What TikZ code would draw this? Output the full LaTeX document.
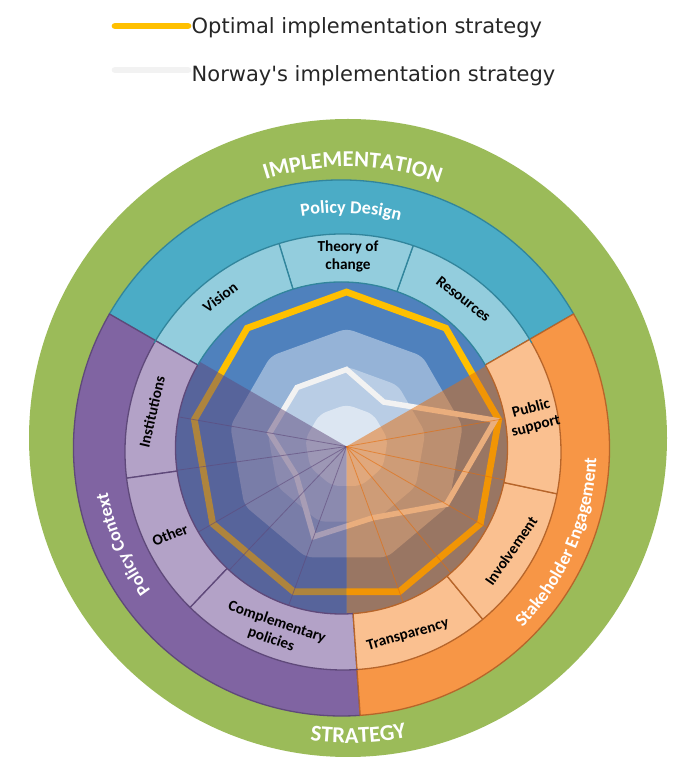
\documentclass[tikz,border=0pt]{standalone}
\usepackage{fontspec}
\usepackage{graphicx}
\setmainfont{Carlito}
\newfontfamily\legendfont{DejaVu Sans}
\usetikzlibrary{decorations.text,calc}

\definecolor{cgreen}{HTML}{9BBB59}
\definecolor{cteal}{HTML}{4BACC6}
\definecolor{clteal}{HTML}{93CDDD}
\definecolor{cteald}{HTML}{31859C}
\definecolor{cpurple}{HTML}{8064A2}
\definecolor{clpurple}{HTML}{B3A2C7}
\definecolor{cpurpled}{HTML}{5F497A}
\definecolor{corange}{HTML}{F79646}
\definecolor{clorange}{HTML}{FAC090}
\definecolor{coranged}{HTML}{B7652A}
\definecolor{cblue}{HTML}{4F81BD}
\definecolor{cla}{HTML}{95B3D7}
\definecolor{clb}{HTML}{B9CDE5}
\definecolor{clc}{HTML}{DCE6F2}
\definecolor{cgold}{HTML}{FFC000}
\definecolor{cnor}{HTML}{F2F2F2}
\definecolor{covp}{HTML}{5F497A}
\definecolor{covo}{HTML}{E46C0A}
\definecolor{ctext}{HTML}{262626}

\newcommand\bandfont{\fontsize{18.2}{20}\selectfont\bfseries}
\newcommand\ringfont{\fontsize{22.7}{25}\selectfont\bfseries}

\tikzset{
  lbl/.style={font=\fontsize{15.3}{18}\selectfont\bfseries, text=black, align=center, inner sep=0pt},
  legtext/.style={anchor=base west, inner sep=0pt, text=ctext, font=\legendfont\fontsize{21}{25}\selectfont},
  segline/.style={line width=1.3pt},
  arctext/.style={decorate, decoration={text along path, text align=center, text color=white}},
}

\begin{document}
\begin{tikzpicture}[x=1pt,y=1pt]
\useasboundingbox (0,0) rectangle (686,772);
\coordinate (D) at (341.5,324);
\coordinate (G) at (348,334);
\coordinate (R) at (346.5,325.5);
\coordinate (M) at (343,320);

% outer green ring
\fill[cgreen] (G) circle[radius=319];

% outer bands
\foreach \a/\b/\c/\d in {30/150/cteal/cteald, 150/274/cpurple/cpurpled, 274/390/corange/coranged}{
  \filldraw[fill=\c, draw=\d, segline] (D) -- ($(D)+(\a:268)$) arc[start angle=\a, end angle=\b, radius=268] -- cycle;
}

% sub-segments
\begin{scope}
\clip (M) circle[radius=218];
\foreach \a/\b/\c/\d in {30/70.5/clteal/cteald, 70.5/107/clteal/cteald, 107/150/clteal/cteald,
  150/188/clpurple/cpurpled, 188/226.5/clpurple/cpurpled, 226.5/274/clpurple/cpurpled,
  274/309.5/clorange/coranged, 309.5/348/clorange/coranged, 348/390/clorange/coranged}{
  \filldraw[fill=\c, draw=\d, segline] (D) -- ($(D)+(\a:300)$) arc[start angle=\a, end angle=\b, radius=300] -- cycle;
}
\end{scope}
\draw[cteald, segline] ($(M)+(30:218)$) arc[start angle=30, end angle=150, radius=218];
\draw[cpurpled, segline] ($(M)+(150:218)$) arc[start angle=150, end angle=274, radius=218];
\draw[coranged, segline] ($(M)+(274:218)$) arc[start angle=274, end angle=390, radius=218];

% radar disk
\fill[cblue] (D) circle[radius=166];
\begin{scope}
\clip (D) circle[radius=166];
\foreach \r/\c in {118/cla, 80/clb, 42/clc}{
  \fill[\c, rounded corners=7pt] ($(R)+(70:{\r*0.9397})$) -- ($(R)+(50:\r)$) -- ($(R)+(10:\r)$) -- ($(R)+(-30:\r)$)
    -- ($(R)+(-70:\r)$) -- ($(R)+(-110:\r)$) -- ($(R)+(-150:\r)$) -- ($(R)+(170:\r)$) -- ($(R)+(130:\r)$)
    -- ($(R)+(90:\r)$) -- cycle;
}
% optimal strategy
\draw[cgold, line width=6.7pt, line join=miter] ($(R)+(90:154.5)$) -- ($(R)+(50:154.5)$) -- ($(R)+(10:154.5)$)
  -- ($(R)+(-30:154.5)$) -- ($(R)+(-70:154.5)$) -- ($(R)+(-110:154.5)$) -- ($(R)+(-150:154.5)$)
  -- ($(R)+(170:154.5)$) -- ($(R)+(130:154.5)$) -- cycle;
% Norway
\draw[cnor, line width=5.5pt, line join=miter] ($(R)+(90:77)$) -- ($(R)+(50:58)$) -- ($(R)+(10:151)$)
  -- ($(R)+(-30:115.5)$) -- ($(R)+(-70:76)$) -- ($(R)+(-110:96)$) -- ($(R)+(-150:58)$)
  -- ($(R)+(170:78)$) -- ($(R)+(130:77)$) -- cycle;
% overlays
\fill[covp, opacity=0.5] (R) -- ($(R)+(150:220)$) arc[start angle=150, end angle=270, radius=220] -- cycle;
\fill[covo, opacity=0.5] (R) -- ($(R)+(-90:220)$) arc[start angle=-90, end angle=30, radius=220] -- cycle;
\foreach \t in {170,188,210,226.5,250}{
  \draw[covp, line width=0.8pt, opacity=0.6] (R) -- ($(R)+(\t:220)$);
}
\foreach \t in {-70,-50.5,-30,-12,10}{
  \draw[covo, line width=0.8pt, opacity=0.6] (R) -- ($(R)+(\t:220)$);
}
\end{scope}
\draw[cteald, segline] ($(D)+(30:166)$) arc[start angle=30, end angle=150, radius=166];
\draw[cpurpled, segline] ($(D)+(150:166)$) arc[start angle=150, end angle=274, radius=166];
\draw[coranged, segline] ($(D)+(274:166)$) arc[start angle=274, end angle=390, radius=166];

% curved titles
\path[arctext, decoration={text={|\ringfont|IMPLEMENTATION}}] ($(G)+(119:271)$) arc[start angle=119, end angle=59, radius=271];
\path[arctext, decoration={text={|\ringfont|STRATEGY}}] ($(G)+(-118:305)$) arc[start angle=-118, end angle=-58, radius=305];
\path[arctext, decoration={text={|\bandfont|Policy Design}}] ($(D)+(117.7:235)$) arc[start angle=117.7, end angle=57.7, radius=235];
\path[arctext, decoration={text={|\bandfont|Policy Context}}] ($(D)+(239.7:238)$) arc[start angle=239.7, end angle=167.7, radius=238];
\path[arctext, decoration={text={|\bandfont|Stakeholder Engagement}}] ($(D)+(-60:255)$) arc[start angle=-60, end angle=13, radius=255];

% segment labels
\node[lbl, rotate=37] (vision) at (220,475) {Vision};
\node[lbl] (theory) at (348,516) {Theory of\\change};
\node[lbl, rotate=-38] (resources) at (463.5,473) {Resources};
\node[lbl, rotate=77] (institutions) at (152,360) {Institutions};
\node[lbl, rotate=22] (other) at (170,237) {Other};
\node[lbl, rotate=-19] (complementary) at (274,141) {Complementary\\policies};
\node[lbl, rotate=16] (transparency) at (408,137) {Transparency};
\node[lbl, rotate=55] (involvement) at (511,221) {Involvement};
\node[lbl, rotate=15] (public) at (533.5,354.5) {Public\\support};

% legend
\coordinate (la1) at (115,746);
\coordinate (la2) at (188,746);
\coordinate (lb1) at (115,702);
\coordinate (lb2) at (188,702);
\draw[cgold, line width=6.7pt, line cap=round] (la1) -- (la2);
\draw[cnor, line width=6.7pt, line cap=round] (lb1) -- (lb2);
\node[legtext] (leg1) at (191.5,738.5) {Optimal implementation strategy};
\node[legtext] (leg2) at (191.5,690.5) {Norway\textquotesingle s implementation strategy};
\end{tikzpicture}
\end{document}
